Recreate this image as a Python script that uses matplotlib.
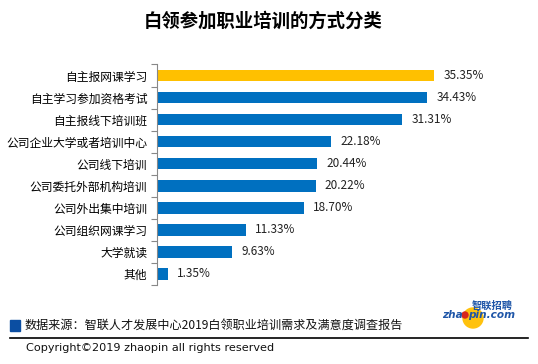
import matplotlib
matplotlib.use("Agg")
import matplotlib.pyplot as plt
from matplotlib.patches import Rectangle, Ellipse

plt.rcParams['font.family'] = ['Noto Sans CJK SC', 'DejaVu Sans']

categories = ["自主报网课学习", "自主学习参加资格考试", "自主报线下培训班", "公司企业大学或者培训中心",
              "公司线下培训", "公司委托外部机构培训", "公司外出集中培训", "公司组织网课学习",
              "大学就读", "其他"]
values = [35.35, 34.43, 31.31, 22.18, 20.44, 20.22, 18.70, 11.33, 9.63, 1.35]
labels = ["35.35%", "34.43%", "31.31%", "22.18%", "20.44%", "20.22%", "18.70%", "11.33%", "9.63%", "1.35%"]
title = "白领参加职业培训的方式分类"
source = "数据来源：智联人才发展中心2019白领职业培训需求及满意度调查报告"
copyright_text = "Copyright©2019 zhaopin all rights reserved"

W, H = 538, 364
fig = plt.figure(figsize=(W / 100, H / 100), dpi=100)
ax = fig.add_axes([157 / W, 1 - 285 / H, (470.6 - 157) / W, (285 - 64.5) / H])

colors = ["#FFC000"] + ["#0070C0"] * (len(values) - 1)
ypos = list(range(len(values)))
ax.barh(ypos, values, height=0.52, color=colors)
ax.set_ylim(len(values) - 0.5, -0.5)
ax.set_xlim(0, 40)
for y, v, l in zip(ypos, values, labels):
    ax.text(v + 1.2, y, l, va="center", ha="left", fontsize=8.5, color="#222222")

ax.set_yticks([i - 0.5 for i in range(len(values) + 1)], minor=False)
ax.set_yticklabels([])
ax.set_yticks(ypos, minor=True)
ax.set_yticklabels(categories, minor=True, fontsize=8.5)
ax.tick_params(axis="y", which="minor", length=0, pad=7)
ax.tick_params(axis="y", which="major", length=4, color="#888888")
ax.set_xticks([])
for s in ["top", "right", "bottom"]:
    ax.spines[s].set_visible(False)
ax.spines["left"].set_color("#888888")

fig.text(263 / W, 1 - 21 / H, title, ha="center", va="center", fontsize=13.2, fontweight="bold")

# footer
fig.patches.append(Rectangle((10 / W, 1 - 331 / H), 10 / W, 11 / H, transform=fig.transFigure,
                             color="#0B4EA2"))
fig.text(25 / W, 1 - 325 / H, source, ha="left", va="center", fontsize=8.7, color="#111111")
fig.add_artist(plt.Line2D([10 / W, 528 / W], [1 - 337.5 / H, 1 - 337.5 / H], color="black", lw=1.2))
fig.text(26 / W, 1 - 348 / H, copyright_text, ha="left", va="center", fontsize=8.1,
         family=["DejaVu Sans"], color="#111111")

# logo approximation
fig.patches.append(Ellipse((473 / W, 1 - 318 / H), 20 / W, 20 / H, transform=fig.transFigure,
                           color="#FFC20E", zorder=1))
fig.patches.append(Ellipse((465 / W, 1 - 315 / H), 6 / W, 6 / H, transform=fig.transFigure,
                           color="#D7261E", zorder=3))
fig.text(472 / W, 1 - 306 / H, "智联招聘", ha="left", va="center", fontsize=7.4, fontweight="bold",
         color="#1F56A8", style="italic", zorder=4)
fig.text(442 / W, 1 - 315 / H, "zha", ha="left", va="center", fontsize=7.6, fontweight="bold",
         color="#1F56A8", style="italic", family=["DejaVu Sans"], zorder=4)
fig.text(468 / W, 1 - 315 / H, "pin.com", ha="left", va="center", fontsize=7.6, fontweight="bold",
         color="#1F56A8", style="italic", family=["DejaVu Sans"], zorder=4)

fig.savefig("out.png", dpi=100, facecolor="white")
